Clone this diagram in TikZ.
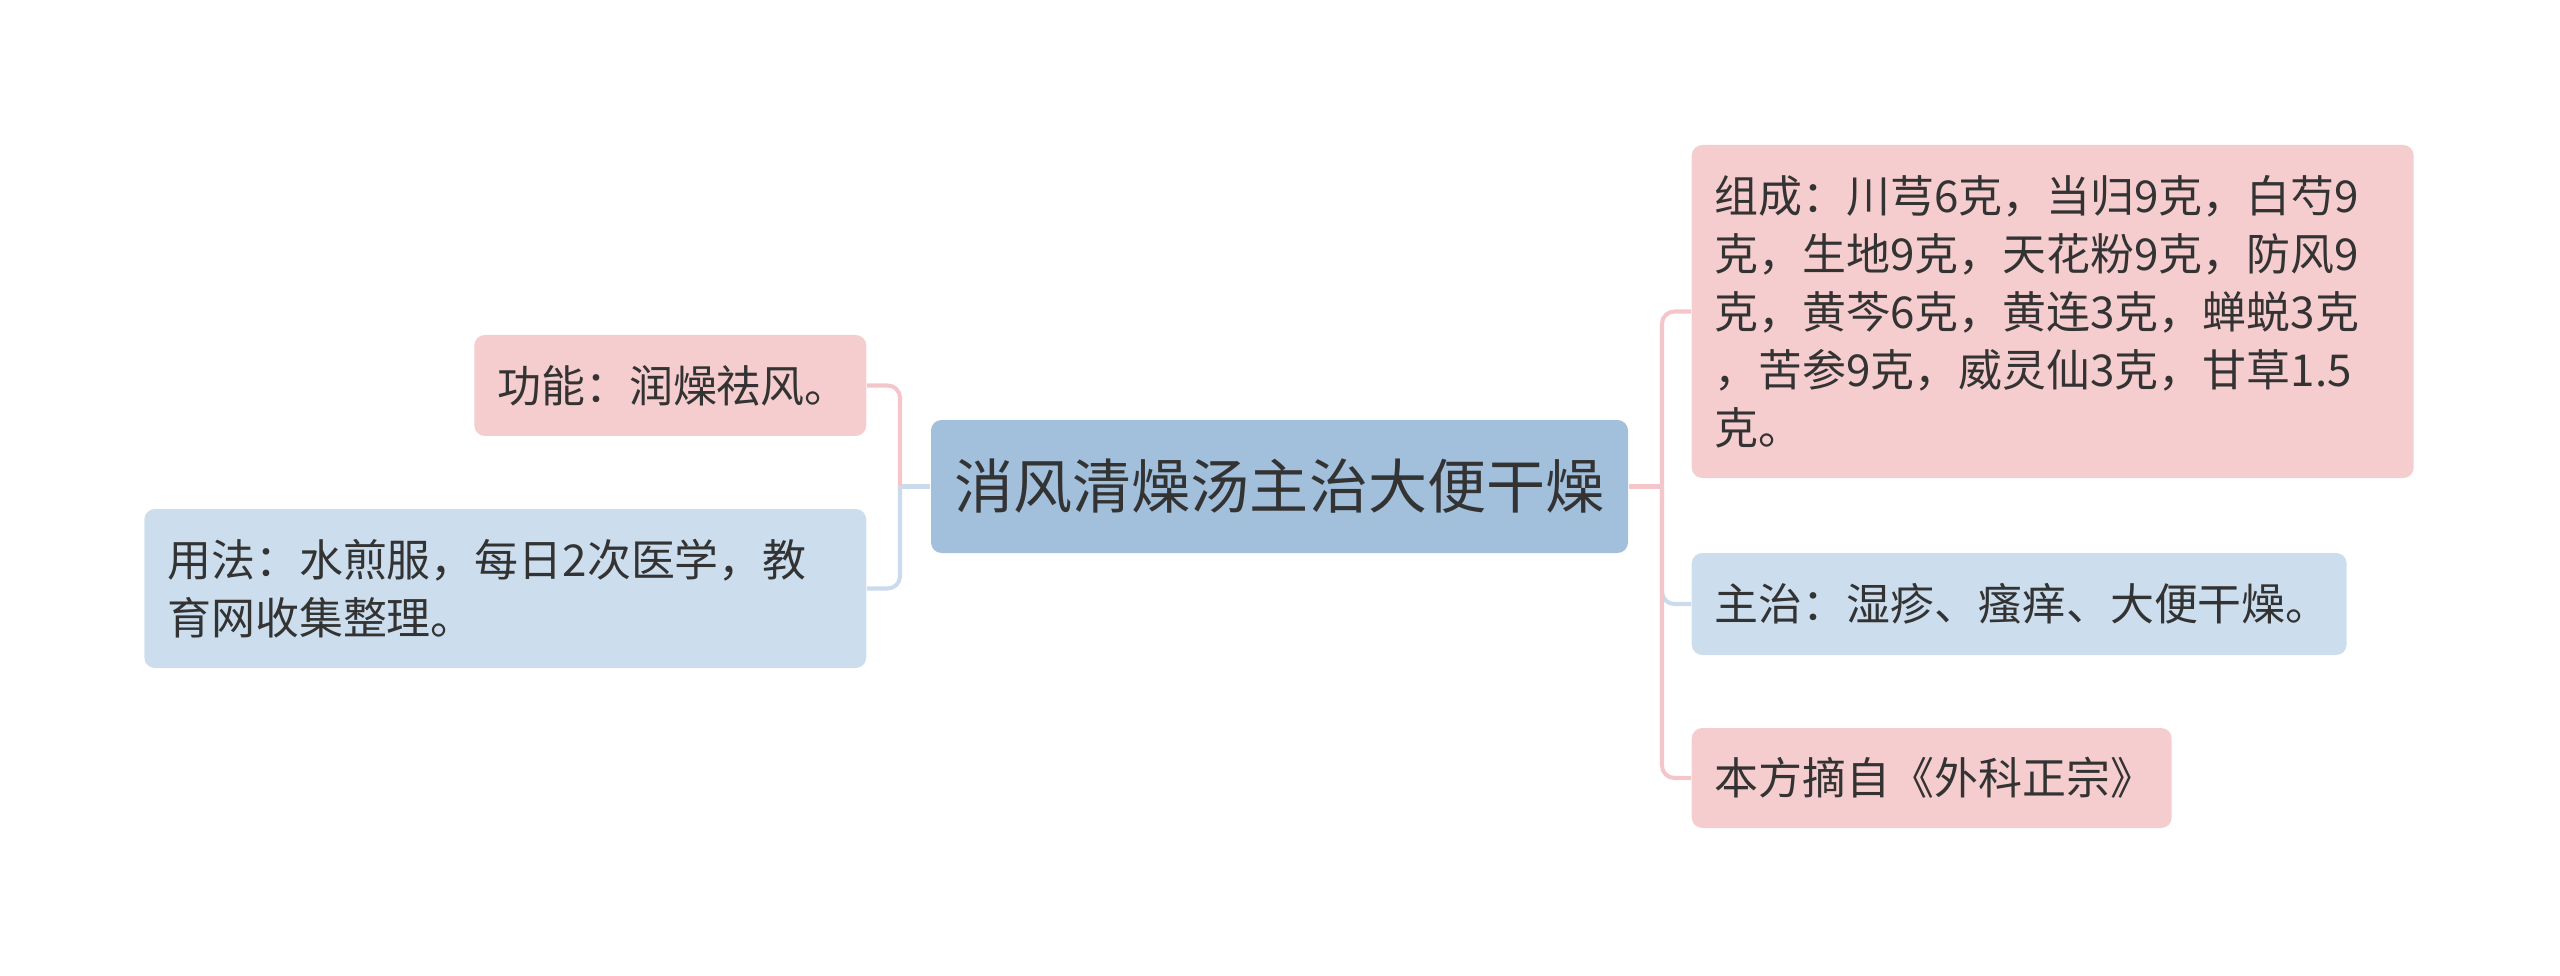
\documentclass[tikz,border=0pt]{standalone}
\usepackage{fontspec}
\usepackage{xcolor}
\usetikzlibrary{positioning}
\newfontfamily\cjk{Noto Sans CJK SC}
\definecolor{rootblue}{HTML}{A2BFDB}
\definecolor{leafpink}{HTML}{F6CDCF}
\definecolor{leafblue}{HTML}{CCDEEE}
\definecolor{linkpink}{HTML}{F4C6CA}
\definecolor{linkblue}{HTML}{C9DBEC}
\definecolor{ink}{HTML}{333333}

\begin{document}
\begin{tikzpicture}[
  x=1cm,
  y=1cm,
  root/.style={fill=rootblue, rounded corners=3pt, minimum width=6.97cm, minimum height=1.33cm, inner sep=0pt, text=ink, font=\cjk\fontsize{16.8}{20}\selectfont},
  leaf/.style={rounded corners=3pt, inner xsep=0.23cm, inner ysep=0pt, align=left, text=ink, font=\cjk\fontsize{12.5}{16.5}\selectfont},
  pinkleaf/.style={leaf, fill=leafpink},
  blueleaf/.style={leaf, fill=leafblue},
  link/.style={line width=1.15pt, rounded corners=3.5pt}
]
\useasboundingbox (0,0) rectangle (25.6,9.75);

\node[root] (root) at (12.795,4.885) {消风清燥汤主治大便干燥};

% left side
\node[pinkleaf, anchor=east, text width=3.46cm, minimum height=1.01cm] (gongneng) at (8.67,5.895) {功能：润燥祛风。};
\node[blueleaf, anchor=east, text width=6.76cm, minimum height=1.59cm] (yongfa) at (8.67,3.865) {用法：水煎服，每日2次医学，教\\育网收集整理。};

% right side
\node[pinkleaf, anchor=west, text width=6.76cm, minimum height=3.33cm] (zucheng) at (16.91,6.635) {组成：川芎6克，当归9克，白芍9\\克，生地9克，天花粉9克，防风9\\克，黄芩6克，黄连3克，蝉蜕3克\\，苦参9克，威灵仙3克，甘草1.5\\克。};
\node[blueleaf, anchor=west, text width=6.09cm, minimum height=1.02cm] (zhuzhi) at (16.91,3.71) {主治：湿疹、瘙痒、大便干燥。};
\node[pinkleaf, anchor=west, text width=4.34cm, minimum height=1.00cm] (benfang) at (16.91,1.97) {本方摘自《外科正宗》};

\coordinate (lj) at (9.00,4.885);
\coordinate (rj) at (16.62,4.885);

\draw[link, linkblue] (root.west) -- (lj);
\draw[link, linkpink] (lj) |- (gongneng.east);
\draw[link, linkblue] (lj) |- (yongfa.east);

\draw[link, linkpink] (root.east) -- (rj);
\draw[link, linkpink] (rj) |- (zucheng.west);
\draw[link, linkblue] (rj) |- (zhuzhi.west);
\draw[link, linkpink] (rj) |- (benfang.west);
\end{tikzpicture}
\end{document}
